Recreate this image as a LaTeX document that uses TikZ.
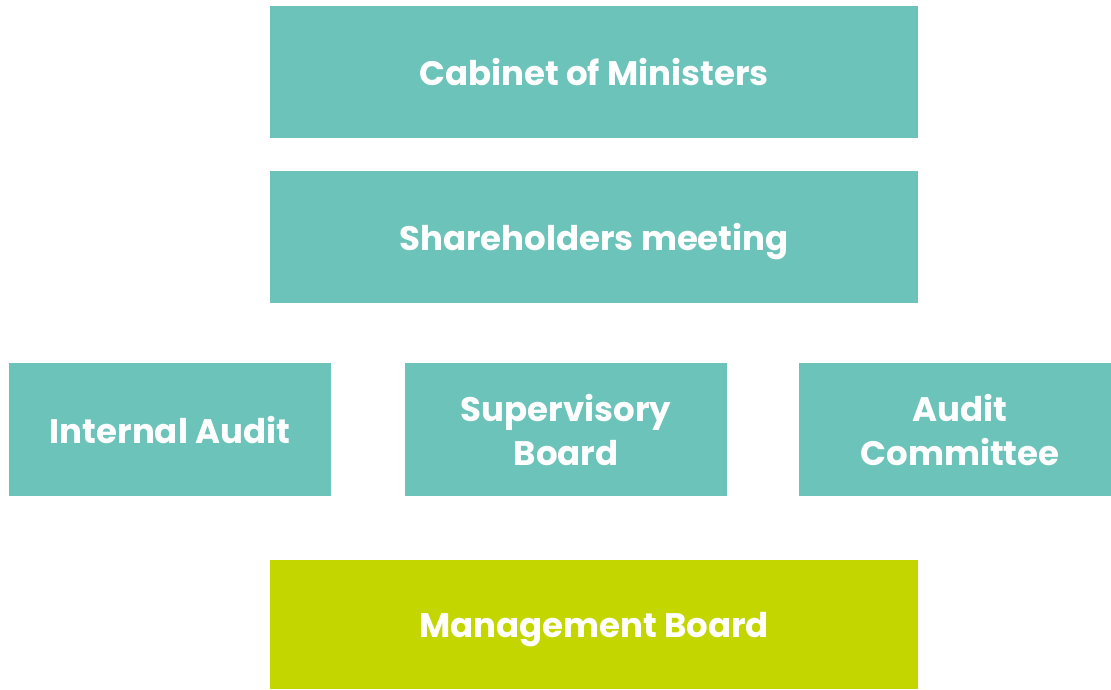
\documentclass[tikz,border=0pt]{standalone}
\usepackage{fontspec}
\setmainfont{Poppins}
\definecolor{boardteal}{HTML}{6BC3B9}
\definecolor{boardlime}{HTML}{C3D600}

\begin{document}
\begin{tikzpicture}[
    x=1pt, y=-1pt,
    box/.style={fill=boardteal, text=white, inner sep=0pt, align=center,
      text depth=0pt, minimum width=322pt, minimum height=133pt,
      font=\fontsize{34}{44}\selectfont\bfseries},
    wide/.style={box, minimum width=648pt, minimum height=132pt}
  ]
  \useasboundingbox (0,0) rectangle (1111,689);

  \node[wide] (cabinet) at (594,72) {Cabinet of Ministers};
  \node[wide] (shareholders) at (594,237) {Shareholders meeting};

  % middle row, the right box runs off the page edge
  \node[box] (internal) at (170,429.5) {Internal Audit};
  \node[box] (supervisory) at (566,429.5) {Supervisory\\Board};
  \node[box] (committee) at (960,429.5) {Audit\\Committee};

  \node[wide, fill=boardlime, minimum height=129pt] (management) at (594,624.5) {Management Board};
\end{tikzpicture}
\end{document}
